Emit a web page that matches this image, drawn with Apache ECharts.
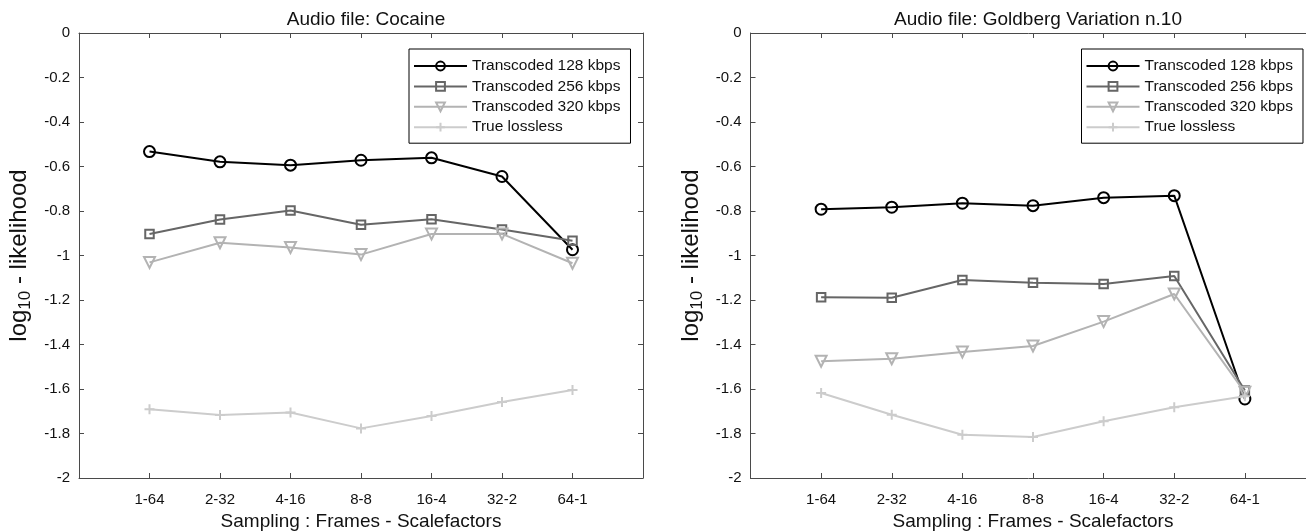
<!DOCTYPE html>
<html>
<head>
<meta charset="utf-8">
<script src="https://cdn.jsdelivr.net/npm/echarts@6/dist/echarts.min.js"></script>
<style>
html,body{margin:0;padding:0;background:#fff;}
#chart{width:1306px;height:531px;}
</style>
</head>
<body>
<div id="chart"></div>
<script>
// ---- data ----
var categories = ['1-64', '2-32', '4-16', '8-8', '16-4', '32-2', '64-1'];
var seriesNames = ['Transcoded 128 kbps', 'Transcoded 256 kbps', 'Transcoded 320 kbps', 'True lossless'];
var titles = ['Audio file: Cocaine', 'Audio file: Goldberg Variation n.10'];

var cocaine128      = [-0.533, -0.579, -0.594, -0.572, -0.561, -0.645, -0.974];
var cocaine256      = [-0.903, -0.838, -0.798, -0.862, -0.837, -0.883, -0.934];
var cocaine320      = [-1.031, -0.943, -0.964, -0.996, -0.903, -0.903, -1.035];
var cocaineLossless = [-1.691, -1.717, -1.706, -1.777, -1.721, -1.658, -1.604];

var goldberg128      = [-0.792, -0.783, -0.765, -0.776, -0.740, -0.731, -1.645];
var goldberg256      = [-1.188, -1.190, -1.110, -1.122, -1.128, -1.092, -1.607];
var goldberg320      = [-1.475, -1.464, -1.434, -1.407, -1.297, -1.173, -1.615];
var goldbergLossless = [-1.618, -1.716, -1.806, -1.816, -1.745, -1.682, -1.633];

// ---- styling ----
var FONT = '"Liberation Sans", Arial, Helvetica, sans-serif';
var AXIS_COLOR = '#4a4a4a';
var styles = [
  {color: '#000000', symbol: 'circle', size: 11, rotate: 0},
  {color: '#666666', symbol: 'rect', size: 8.5, rotate: 0},
  {color: '#b3b3b3', symbol: 'triangle', size: 11, rotate: 180},
  {color: '#cccccc', symbol: 'path://M5,0L5,10M0,5L10,5', size: 10, rotate: 0}
];
var panels = [
  {data: [cocaine128, cocaine256, cocaine320, cocaineLossless], left: 79, width: 564},
  {data: [goldberg128, goldberg256, goldberg320, goldbergLossless], left: 750.5, width: 565}
];
var TOP = 33, HEIGHT = 445;

var grids = [], xAxes = [], yAxes = [], series = [], legends = [], titleOpts = [];

function xLabel(v) { return categories[v - 1] || ''; }

panels.forEach(function (p, pi) {
  grids.push({left: p.left, top: TOP, width: p.width, height: HEIGHT,
    containLabel: false, outerBoundsMode: 'none'});
  var common = {
    gridIndex: pi, type: 'value', min: 0, max: 8, interval: 1,
    axisLine: {show: true, onZero: false, lineStyle: {color: AXIS_COLOR, width: 1}},
    axisTick: {show: true, inside: true, length: 5, lineStyle: {color: AXIS_COLOR}},
    splitLine: {show: false}
  };
  xAxes.push(Object.assign({}, common, {
    position: 'bottom',
    axisLabel: {show: true, formatter: xLabel, color: '#111', fontSize: 15, fontFamily: FONT, margin: 14},
    name: 'Sampling : Frames - Scalefactors', nameLocation: 'middle', nameGap: 34,
    nameTextStyle: {color: '#111', fontSize: 19, fontFamily: FONT}
  }));
  xAxes.push(Object.assign({}, common, {position: 'top', axisLabel: {show: false}}));
  var ycommon = {
    gridIndex: pi, type: 'value', min: -2, max: 0, interval: 0.2,
    axisLine: {show: true, onZero: false, lineStyle: {color: AXIS_COLOR, width: 1}},
    axisTick: {show: true, inside: true, length: 5, lineStyle: {color: AXIS_COLOR}},
    splitLine: {show: false}
  };
  yAxes.push(Object.assign({}, ycommon, {
    position: 'left',
    axisLabel: {show: true, color: '#111', fontSize: 15, fontFamily: FONT, margin: 9},
    name: 'log{sub|10} - likelihood', nameLocation: 'middle', nameGap: 45,
    nameTextStyle: {color: '#111', fontSize: 24, fontFamily: FONT,
      rich: {sub: {fontSize: 17, fontFamily: FONT, color: '#111', padding: [12, 0, 0, 0]}}}
  }));
  yAxes.push(Object.assign({}, ycommon, {position: 'right', axisLabel: {show: false}}));

  p.data.forEach(function (vals, si) {
    var st = styles[si];
    series.push({
      name: seriesNames[si], type: 'line',
      xAxisIndex: pi * 2, yAxisIndex: pi * 2,
      data: vals.map(function (v, i) { return [i + 1, v]; }),
      symbol: st.symbol, symbolSize: st.size, symbolRotate: st.rotate,
      showAllSymbol: true,
      lineStyle: {color: st.color, width: 2},
      itemStyle: {color: 'none', borderColor: st.color, borderWidth: 2},
      emphasis: {disabled: true},
      animation: false, z: 2 + si
    });
  });

  var right = p.left + p.width - 16;
  legends.push({
    data: seriesNames, orient: 'vertical',
    left: right - 218, top: 49, width: 218,
    padding: [9, 10, 8, 4],
    itemWidth: 53, itemHeight: 11, itemGap: 4.4,
    backgroundColor: '#fff', borderColor: '#000', borderWidth: 1, borderRadius: 0,
    selectedMode: false,
    textStyle: {color: '#111', fontSize: 15.5, fontFamily: FONT, lineHeight: 16}
  });
  titleOpts.push({
    text: titles[pi], left: p.left + p.width / 2, textAlign: 'center', top: 5,
    textStyle: {color: '#111', fontSize: 19, fontWeight: 'normal', fontFamily: FONT}
  });
});

var chart = echarts.init(document.getElementById('chart'), null, {renderer: 'canvas'});
chart.setOption({
  animation: false,
  backgroundColor: '#fff',
  title: titleOpts,
  grid: grids,
  xAxis: xAxes,
  yAxis: yAxes,
  legend: legends,
  series: series
});
</script>
</body>
</html>
